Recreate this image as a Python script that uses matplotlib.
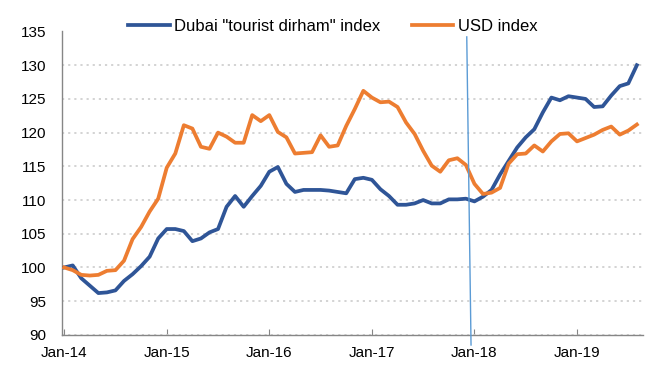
import matplotlib
matplotlib.use("Agg")
import matplotlib.pyplot as plt
import numpy as np

plt.rcParams['font.family'] = ['Liberation Sans', 'DejaVu Sans']

# monthly index values, Jan-14 .. Aug-19
dubai = [100.0, 100.3, 98.4, 97.3, 96.2, 96.3, 96.6, 98.0, 99.0, 100.2, 101.6, 104.3,
         105.7, 105.7, 105.4, 103.9, 104.3, 105.2, 105.7, 109.0, 110.6, 109.0, 110.6, 112.1,
         114.2, 114.9, 112.4, 111.2, 111.5, 111.5, 111.5, 111.4, 111.2, 111.0, 113.1, 113.3,
         113.0, 111.6, 110.6, 109.3, 109.3, 109.5, 110.0, 109.5, 109.5, 110.1, 110.1, 110.2,
         109.8, 110.5, 111.5, 113.8, 115.8, 117.8, 119.3, 120.5, 123.0, 125.2, 124.8, 125.4,
         125.2, 125.0, 123.8, 123.9, 125.5, 126.9, 127.3, 130.0]
usd = [100.0, 99.6, 98.9, 98.8, 98.9, 99.5, 99.6, 101.0, 104.2, 106.0, 108.3, 110.2,
       114.8, 116.9, 121.1, 120.6, 117.9, 117.6, 120.0, 119.4, 118.5, 118.5, 122.6, 121.7,
       122.6, 120.1, 119.3, 116.9, 117.0, 117.1, 119.6, 117.9, 118.1, 121.0, 123.5, 126.2,
       125.2, 124.5, 124.6, 123.8, 121.5, 119.8, 117.3, 115.1, 114.2, 115.9, 116.2, 115.2,
       112.4, 110.9, 111.1, 111.8, 115.4, 116.8, 116.9, 118.1, 117.2, 118.7, 119.8, 119.9,
       118.7, 119.2, 119.7, 120.4, 120.9, 119.7, 120.3, 121.2]
tick_labels = ['Jan-14', 'Jan-15', 'Jan-16', 'Jan-17', 'Jan-18', 'Jan-19']
y_ticks = [90, 95, 100, 105, 110, 115, 120, 125, 130, 135]

months = np.arange(len(dubai))

fig = plt.figure(figsize=(6.6, 3.75), dpi=100)
ax = fig.add_axes([0.094, 0.107, 0.88, 0.809])

ax.plot(months, dubai, color='#2F5597', lw=2.7, label='Dubai "tourist dirham" index',
        solid_joinstyle='round', zorder=3)
ax.plot(months, usd, color='#ED7D31', lw=2.7, label='USD index',
        solid_joinstyle='round', zorder=3)

ax.set_xlim(-0.25, 67.7)
ax.set_ylim(90, 135)
ax.set_yticks(y_ticks)
ax.set_xticks(np.arange(len(tick_labels)) * 12)
ax.set_xticklabels(tick_labels)

ax.grid(axis='y', color='#D0D0D0', linestyle=(0, (1.2, 2.2)), lw=1.3, zorder=0)
for s in ['top', 'right']:
    ax.spines[s].set_visible(False)
for s in ['left', 'bottom']:
    ax.spines[s].set_color('#868686')
    ax.spines[s].set_linewidth(1.0)

ax.tick_params(axis='y', length=0, pad=11.5, labelsize=11)
ax.tick_params(axis='x', direction='in', length=4, color='#868686', pad=8, labelsize=11)

# thin marker line around Jan-18
ax.plot([47.1, 47.6], [134.2, 88.5], color='#5B9BD5', lw=1.0, clip_on=False, zorder=4)

fig.legend(loc='center', bbox_to_anchor=(0.504, 0.93), ncol=2, frameon=False,
           fontsize=12, handlelength=2.5, handletextpad=0.25, columnspacing=1.9,
           borderaxespad=0)

fig.savefig('out.png', dpi=100)
